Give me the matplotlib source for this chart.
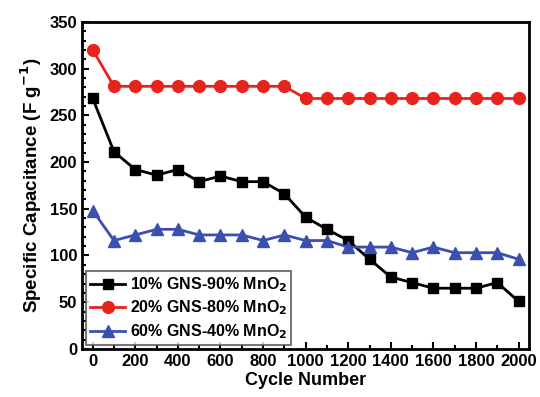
import numpy as np
import matplotlib
matplotlib.use('Agg')
import matplotlib.pyplot as plt
from matplotlib.ticker import MultipleLocator

plt.rcParams['font.family'] = ['Liberation Sans', 'DejaVu Sans']
plt.rcParams['font.weight'] = 'bold'

cycles = np.arange(0, 2001, 100)
gns10 = [268, 211, 192, 186, 192, 179, 185, 179, 179, 166, 141,
         128, 116, 96, 77, 71, 65, 65, 65, 71, 51]
gns20 = [320, 281, 281, 281, 281, 281, 281, 281, 281, 281, 268,
         268, 268, 268, 268, 268, 268, 268, 268, 268, 268]
gns60 = [148, 116, 122, 128, 128, 122, 122, 122, 116, 122, 116,
         116, 109, 109, 109, 103, 109, 103, 103, 103, 96]

fig = plt.figure(figsize=(5.4, 3.97), dpi=100)
ax = fig.add_axes([0.152, 0.121, 0.828, 0.824])

ax.plot(cycles, gns10, 'k-s', lw=2, ms=7.5, label='10% GNS-90% MnO$_\\mathbf{2}$')
ax.plot(cycles, gns20, '-o', color='#e8231b', lw=2, ms=8.5, label='20% GNS-80% MnO$_\\mathbf{2}$')
ax.plot(cycles, gns60, '-^', color='#3a4fb0', lw=2, ms=8.5, label='60% GNS-40% MnO$_\\mathbf{2}$')

ax.set_xlim(-50, 2050)
ax.set_ylim(0, 350)
ax.xaxis.set_major_locator(MultipleLocator(200))
ax.xaxis.set_minor_locator(MultipleLocator(100))
ax.yaxis.set_major_locator(MultipleLocator(50))
ax.yaxis.set_minor_locator(MultipleLocator(10))
ax.tick_params(which='both', direction='in', width=1.5, labelsize=12)
ax.tick_params(which='major', length=5)
ax.tick_params(which='minor', length=3)
for s in ax.spines.values():
    s.set_linewidth(2)

ax.set_xlabel('Cycle Number', fontsize=13, fontweight='bold', labelpad=2)
ax.set_ylabel('Specific Capacitance (F g$^{\\mathbf{-1}}$)', fontsize=13.5, fontweight='bold')

leg = ax.legend(loc='lower left', fontsize=11.5, frameon=True, fancybox=False,
                edgecolor='#555555', handlelength=2.2, borderpad=0.25,
                labelspacing=0.3, handletextpad=0.3, borderaxespad=0.25)
leg.get_frame().set_linewidth(1.5)

fig.savefig('out.png', dpi=100)
